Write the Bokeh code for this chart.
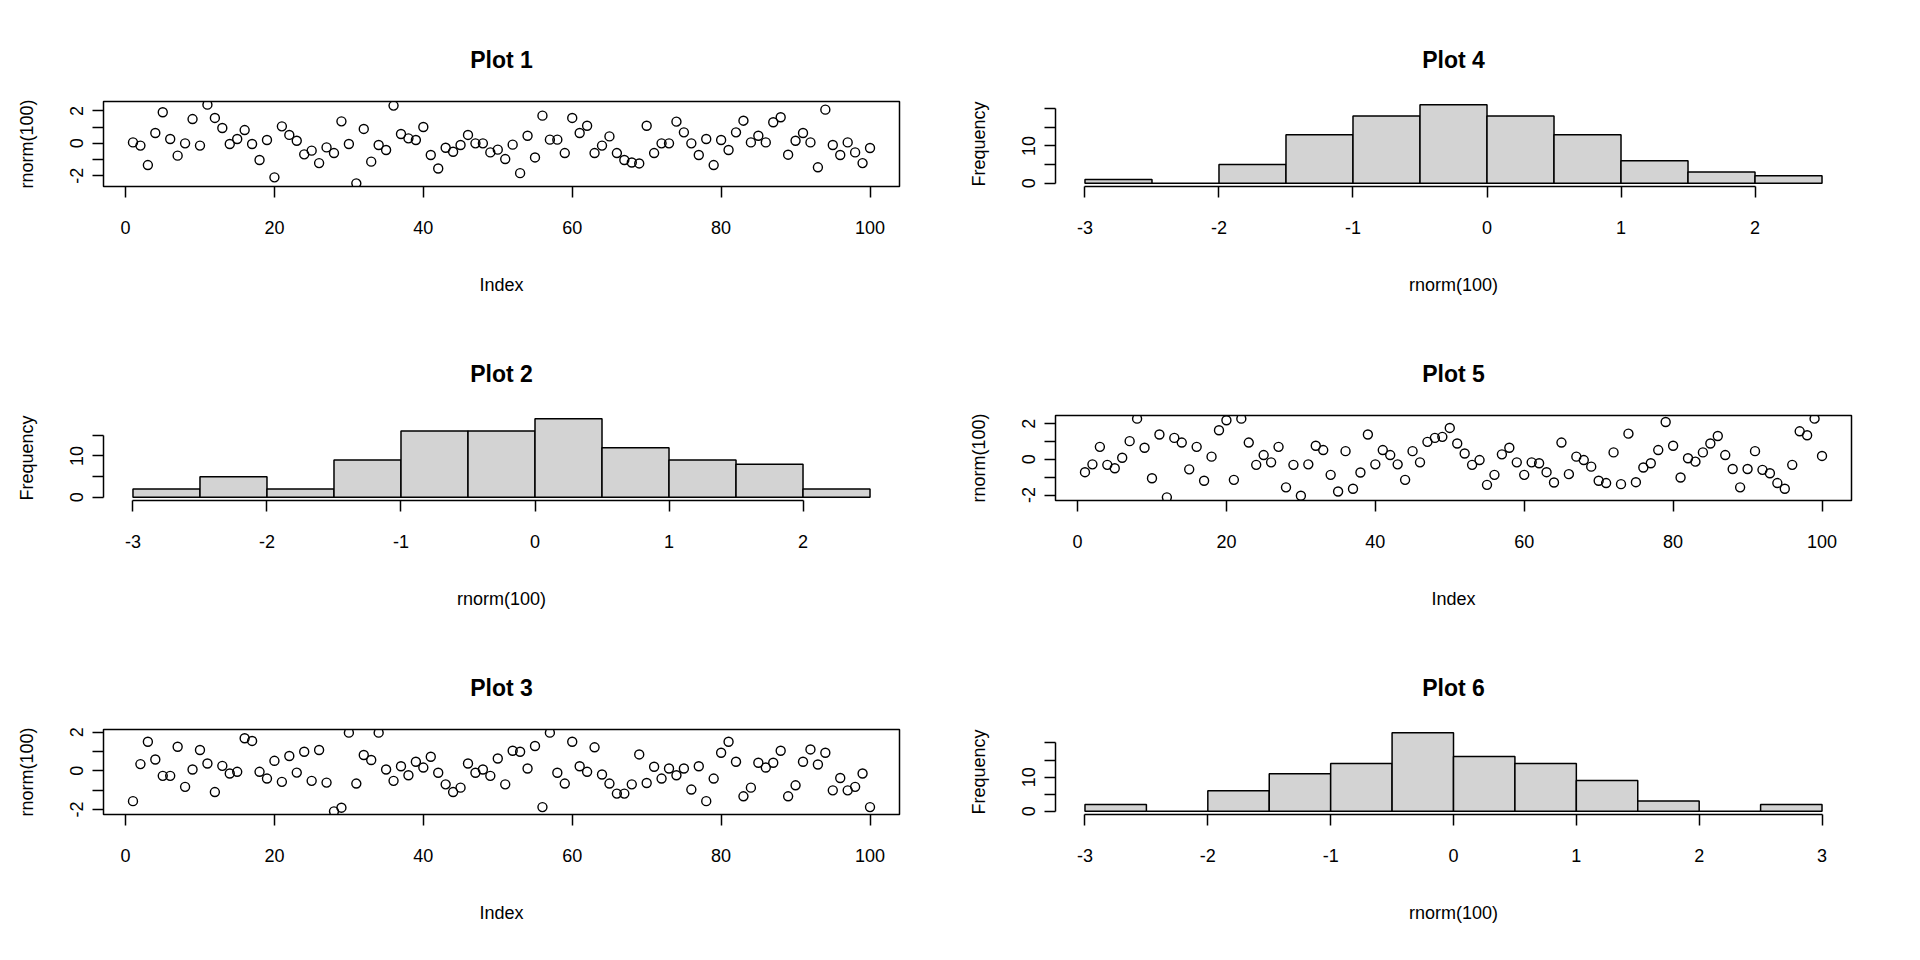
from bokeh.plotting import figure
from bokeh.layouts import gridplot
from bokeh.models import FixedTicker
from bokeh.embed import file_html
from bokeh.resources import INLINE

# ---------------- data ----------------
index = list(range(1, 101))

plot1_y = [0.06, -0.14, -1.34, 0.64, 1.92, 0.27, -0.76, 0.0, 1.5, -0.14,
           2.39, 1.57, 0.95, -0.04, 0.27, 0.82, -0.04, -1.03, 0.21, -2.1,
           1.05, 0.52, 0.16, -0.68, -0.45, -1.22, -0.25, -0.6, 1.36, -0.04,
           -2.47, 0.89, -1.13, -0.1, -0.41, 2.33, 0.58, 0.31, 0.21, 1.01,
           -0.72, -1.55, -0.27, -0.52, -0.1, 0.52, 0.0, 0.0, -0.56, -0.39,
           -0.97, -0.08, -1.84, 0.47, -0.87, 1.71, 0.23, 0.23, -0.6, 1.57,
           0.64, 1.09, -0.6, -0.14, 0.43, -0.6, -1.03, -1.18, -1.24, 1.09,
           -0.6, 0.0, 0.0, 1.34, 0.68, 0.0, -0.72, 0.27, -1.34, 0.21,
           -0.41, 0.68, 1.4, 0.06, 0.47, 0.06, 1.3, 1.61, -0.7, 0.16,
           0.64, 0.06, -1.48, 2.08, -0.1, -0.72, 0.06, -0.56, -1.22, -0.29]

plot3_y = [-1.57, 0.35, 1.51, 0.59, -0.26, -0.26, 1.25, -0.83, 0.07, 1.08,
           0.38, -1.1, 0.26, -0.14, -0.05, 1.69, 1.55, -0.05, -0.4, 0.52,
           -0.57, 0.77, -0.09, 0.99, -0.52, 1.08, -0.61, -2.1, -1.91, 1.98,
           -0.66, 0.82, 0.56, 1.98, 0.07, -0.52, 0.24, -0.23, 0.47, 0.17,
           0.73, -0.1, -0.7, -1.1, -0.87, 0.38, -0.1, 0.07, -0.26, 0.64,
           -0.7, 1.04, 0.99, 0.12, 1.29, -1.88, 1.98, -0.1, -0.66, 1.51,
           0.24, -0.05, 1.22, -0.19, -0.66, -1.18, -1.18, -0.7, 0.85, -0.63,
           0.21, -0.4, 0.12, -0.23, 0.12, -0.97, 0.24, -1.57, -0.4, 0.94,
           1.51, 0.47, -1.32, -0.87, 0.42, 0.17, 0.42, 1.04, -1.32, -0.75,
           0.47, 1.11, 0.33, 0.94, -1.01, -0.37, -1.01, -0.83, -0.14, -1.88]

plot5_y = [-0.72, -0.28, 0.70, -0.31, -0.5, 0.09, 1.02, 2.28, 0.65, -1.06,
           1.39, -2.13, 1.2, 0.94, -0.56, 0.7, -1.2, 0.15, 1.63, 2.19,
           -1.15, 2.28, 0.94, -0.31, 0.24, -0.17, 0.7, -1.57, -0.31, -2.04,
           -0.28, 0.76, 0.52, -0.87, -1.8, 0.46, -1.65, -0.74, 1.39, -0.28,
           0.52, 0.24, -0.28, -1.15, 0.46, -0.17, 0.98, 1.2, 1.26, 1.76,
           0.89, 0.33, -0.31, -0.04, -1.43, -0.87, 0.28, 0.65, -0.17, -0.87,
           -0.17, -0.22, -0.72, -1.3, 0.94, -0.83, 0.15, -0.04, -0.41, -1.2,
           -1.33, 0.39, -1.39, 1.44, -1.28, -0.46, -0.22, 0.52, 2.09, 0.76,
           -1.02, 0.06, -0.13, 0.39, 0.89, 1.31, 0.24, -0.54, -1.57, -0.54,
           0.46, -0.59, -0.78, -1.33, -1.65, -0.31, 1.57, 1.35, 2.28, 0.19]

breaks_a = [-3.0, -2.5, -2.0, -1.5, -1.0, -0.5, 0.0, 0.5, 1.0, 1.5, 2.0, 2.5]
plot2_counts = [2, 5, 2, 9, 16, 16, 19, 12, 9, 8, 2]
plot4_counts = [1, 0, 5, 13, 18, 21, 18, 13, 6, 3, 2]
breaks_b = [-3.0, -2.5, -2.0, -1.5, -1.0, -0.5, 0.0, 0.5, 1.0, 1.5, 2.0, 2.5, 3.0]
plot6_counts = [2, 0, 6, 11, 14, 23, 16, 14, 9, 3, 0, 2]

titles = ["Plot 1", "Plot 2", "Plot 3", "Plot 4", "Plot 5", "Plot 6"]
scatter_xticks = [0, 20, 40, 60, 80, 100]
scatter_yticks = [-2, -1, 0, 1, 2]
scatter_ylabels = {-2: "-2", -1: "", 0: "0", 1: "", 2: "2"}
hist_xticks_a = [-3, -2, -1, 0, 1, 2]
hist_xticks_b = [-3, -2, -1, 0, 1, 2, 3]
hist_labelled_yticks = [0, 10]

# ---------------- style ----------------
FONT = "Liberation Sans"
W, H = 952, 314
BL, BR, BT, BB = 103, 53, 101, 128
LW = 1.5


def base_fig(title, x_range, y_range):
    p = figure(width=W, height=H, x_range=x_range, y_range=y_range,
               output_backend="svg", toolbar_location=None, title=title,
               min_border_left=BL, min_border_right=BR,
               min_border_top=BT, min_border_bottom=BB)
    p.title.text_font = FONT
    p.title.text_font_size = "23px"
    p.title.text_font_style = "bold"
    p.title.text_color = "black"
    p.title.align = "center"
    p.title.standoff = 58
    p.grid.visible = False
    p.background_fill_color = "white"
    p.border_fill_color = "white"
    for ax in (p.xaxis[0], p.yaxis[0]):
        ax.axis_line_color = "black"
        ax.axis_line_width = LW
        ax.major_tick_line_color = "black"
        ax.major_tick_line_width = LW
        ax.major_tick_in = 0
        ax.major_tick_out = 11
        ax.minor_tick_line_color = None
        ax.major_label_text_font = FONT
        ax.major_label_text_font_size = "18px"
        ax.major_label_text_color = "black"
        ax.axis_label_text_font = FONT
        ax.axis_label_text_font_size = "18px"
        ax.axis_label_text_font_style = "normal"
        ax.axis_label_text_color = "black"
    p.xaxis[0].major_label_standoff = 23
    p.xaxis[0].axis_label_standoff = 38
    p.yaxis[0].major_label_orientation = "vertical"
    p.yaxis[0].major_label_standoff = 9
    p.yaxis[0].axis_label_standoff = 31
    return p


def scatter_fig(title, y):
    lo, hi = min(y), max(y)
    pad = 0.04 * (hi - lo)
    xpad = 0.04 * (100 - 1)
    p = base_fig(title, (1 - xpad, 100 + xpad), (lo - pad, hi + pad))
    p.scatter(index, y, marker="circle", size=9, fill_color=None,
              line_color="black", line_width=1.4)
    p.outline_line_color = "black"
    p.outline_line_width = LW
    p.xaxis[0].axis_line_color = None
    p.yaxis[0].axis_line_color = None
    p.xaxis[0].ticker = FixedTicker(ticks=scatter_xticks)
    p.xaxis[0].major_label_overrides = {t: str(t) for t in scatter_xticks}
    p.yaxis[0].ticker = FixedTicker(ticks=scatter_yticks)
    p.yaxis[0].major_label_overrides = scatter_ylabels
    p.xaxis[0].axis_label = "Index"
    p.yaxis[0].axis_label = "rnorm(100)"
    return p


def hist_fig(title, breaks, counts, xticks):
    lo, hi = breaks[0], breaks[-1]
    xpad = 0.04 * (hi - lo)
    top = max(counts)
    p = base_fig(title, (lo - xpad, hi + xpad), (-0.04 * top, 1.04 * top))
    p.quad(left=breaks[:-1], right=breaks[1:], bottom=0, top=counts,
           fill_color="#D3D3D3", line_color="black", line_width=LW)
    p.outline_line_color = None
    yt = [v for v in range(0, top + 1, 5)]
    p.xaxis[0].ticker = FixedTicker(ticks=xticks)
    p.xaxis[0].major_label_overrides = {t: str(t) for t in xticks}
    p.xaxis[0].bounds = (xticks[0], xticks[-1])
    p.yaxis[0].ticker = FixedTicker(ticks=yt)
    p.yaxis[0].major_label_overrides = {
        t: (str(t) if t in hist_labelled_yticks else "") for t in yt}
    p.yaxis[0].bounds = (yt[0], yt[-1])
    p.xaxis[0].axis_label = "rnorm(100)"
    p.yaxis[0].axis_label = "Frequency"
    return p


p1 = scatter_fig(titles[0], plot1_y)
p2 = hist_fig(titles[1], breaks_a, plot2_counts, hist_xticks_a)
p3 = scatter_fig(titles[2], plot3_y)
p4 = hist_fig(titles[3], breaks_a, plot4_counts, hist_xticks_a)
p5 = scatter_fig(titles[4], plot5_y)
p6 = hist_fig(titles[5], breaks_b, plot6_counts, hist_xticks_b)

grid = gridplot([[p1, p4], [p2, p5], [p3, p6]], toolbar_location=None)

open("out.html", "w").write(file_html(grid, INLINE))
